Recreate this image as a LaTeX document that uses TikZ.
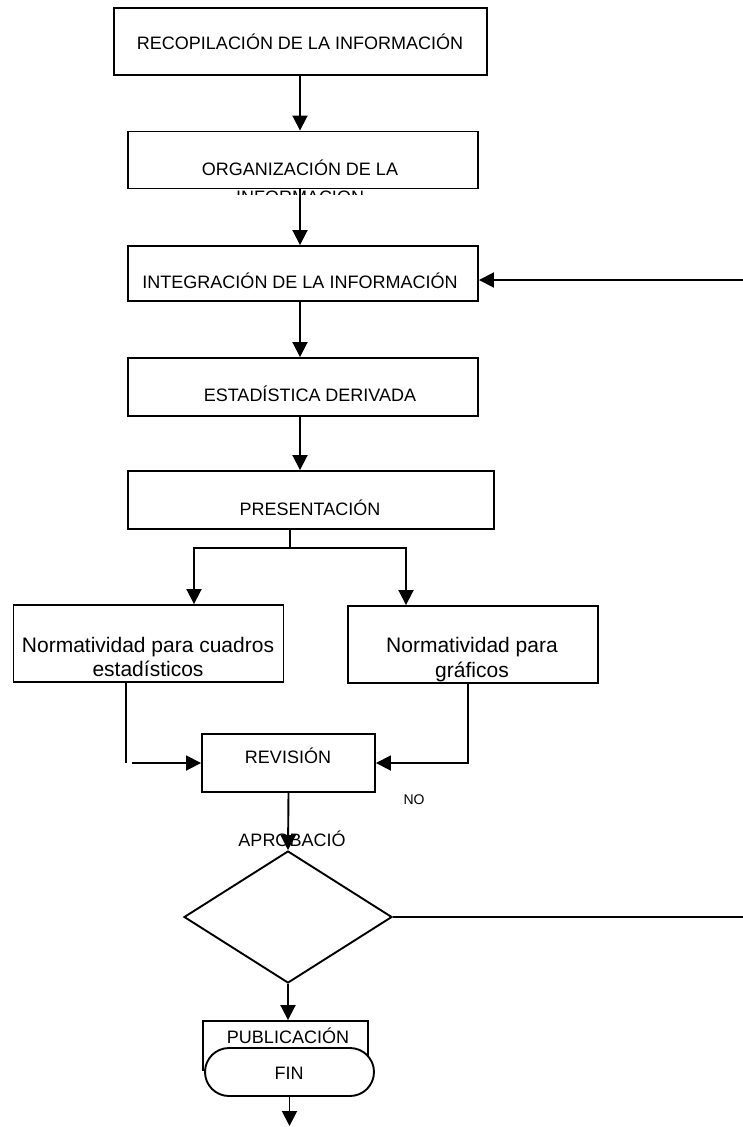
\documentclass[tikz,border=0pt]{standalone}
\usepackage{fontspec}
\setmainfont{Liberation Sans}
\usetikzlibrary{arrows.meta,shapes.geometric}
\begin{document}
\begin{tikzpicture}[x=1pt,y=-1pt,
  every node/.style={inner sep=0pt, font=\fontsize{18}{21}\selectfont},
  boxnode/.style={draw, line width=1.9pt, fill=white},
  capstext/.style={text height=13pt, text depth=0pt, anchor=center},
  normtext/.style={font=\fontsize{21}{24}\selectfont, anchor=base},
  conn/.style={line width=1.9pt},
  arr/.style={line width=1.9pt, -{Triangle[length=15pt,width=15pt]}}]
\useasboundingbox (0,0) rectangle (743,1127);

% boxes
\node[boxnode, minimum width=373pt, minimum height=67pt] (b1) at (300.5,41.5) {};
\node[boxnode, minimum width=350pt, minimum height=57pt] (b2) at (303,160) {};
\node[boxnode, minimum width=350pt, minimum height=55pt] (b3) at (303,273.5) {};
\node[boxnode, minimum width=350pt, minimum height=58pt] (b4) at (303,387) {};
\node[boxnode, minimum width=366pt, minimum height=58pt] (b5) at (311,500) {};
\node[boxnode, minimum width=270pt, minimum height=77pt] (b6) at (148.5,643.5) {};
\node[boxnode, minimum width=250pt, minimum height=77pt] (b7) at (473,644.5) {};
\node[boxnode, minimum width=173pt, minimum height=58pt] (b9) at (288.5,763) {};
\node[draw, diamond, line width=1.9pt, minimum width=208pt, minimum height=132pt] (d) at (288,917) {};
\node[boxnode, minimum width=165pt, minimum height=49pt] (pub) at (285.5,1045.5) {};
\node[boxnode, rounded corners=24pt, minimum width=169pt, minimum height=48pt] (fin) at (289.5,1072) {};

% texts
\node[capstext] (t1) at (300,43) {RECOPILACIÓN DE LA INFORMACIÓN};
\node[capstext] (t2) at (300,169) {ORGANIZACIÓN DE LA};
\begin{scope}
  \clip (128,190.5) rectangle (478,194);
  \node[capstext] (t2b) at (300,197) {INFORMACIÓN};
\end{scope}
\node[capstext] (t3) at (300,282) {INTEGRACIÓN DE LA INFORMACIÓN};
\node[capstext] (t4) at (310,395) {ESTADÍSTICA DERIVADA};
\node[capstext] (t5) at (310,509) {PRESENTACIÓN};
\node[normtext] (t6a) at (148,652) {Normatividad para cuadros};
\node[normtext] (t6b) at (148,676) {estadísticos};
\node[normtext] (t7a) at (472,652) {Normatividad para};
\node[normtext] (t7b) at (472,677) {gráficos};
\node[capstext] (t9) at (288,757) {REVISIÓN};
\node[capstext, font=\fontsize{14}{16}\selectfont, text height=10pt] (no) at (414,799) {NO};
\node[capstext] (apr) at (292,840) {APROBACIÓ};
\node[capstext] (tpub) at (288,1037) {PUBLICACIÓN};
\node[capstext] (tfin) at (289,1073) {FIN};

% connectors
\coordinate (cx) at (300,0);
\draw[arr] (cx |- b1.south) -- (cx |- b2.north);
\draw[arr] (cx |- b2.south) -- (cx |- b3.north);
\draw[arr] (cx |- b3.south) -- (cx |- b4.north);
\draw[arr] (cx |- b4.south) -- (cx |- b5.north);

\coordinate (r3) at (743,280);
\draw[arr] (r3) -- (r3 -| b3.east);

\coordinate (br) at (290,548);
\coordinate (bl) at (194,0);
\coordinate (brr) at (406,0);
\draw[conn] (br |- b5.south) -- (br);
\draw[arr] (br) -| (bl |- b6.north);
\draw[arr] (br) -| (brr |- b7.north);

\coordinate (l6) at (126,763);
\coordinate (l6s) at (132,763);
\draw[conn] (l6 |- b6.south) -- (l6);
\draw[arr] (l6s) -- (b9.west);
\coordinate (r7) at (468,763);
\draw[arr] (r7 |- b7.south) -- (r7) -- (b9.east);

\draw[arr] (b9.south) -- (d.north);
\coordinate (rd) at (743,917);
\draw[conn] (d.east) -- (rd);
\draw[arr] (d.south) -- (d.south |- pub.north);
\coordinate (endp) at (289.5,1126);
\draw[arr] (fin.south) -- (endp);
\end{tikzpicture}
\end{document}
